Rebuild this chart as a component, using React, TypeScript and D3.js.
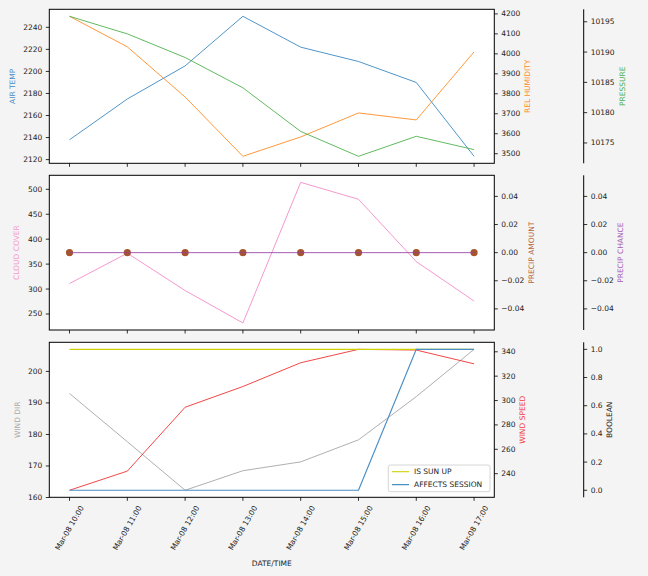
import React from 'react';
import * as d3 from 'd3';

// ---- data ----
const times = ['Mar-08 10:00', 'Mar-08 11:00', 'Mar-08 12:00', 'Mar-08 13:00', 'Mar-08 14:00', 'Mar-08 15:00', 'Mar-08 16:00', 'Mar-08 17:00'];

const airTemp = [2138, 2175, 2205, 2250, 2222, 2209, 2190, 2123];
const relHumidity = [4188, 4035, 3784, 3487, 3584, 3704, 3669, 4010];
const pressure = [10195.9, 10193.0, 10189.1, 10184.1, 10176.9, 10172.8, 10176.1, 10173.9];

const cloudCover = [311, 372, 297, 232, 514, 480, 355, 276];
const precipAmount = [0, 0, 0, 0, 0, 0, 0, 0];
const precipChance = [0, 0, 0, 0, 0, 0, 0, 0];

const windDir = [193.0, 177.7, 162.3, 168.5, 171.3, 178.3, 192.0, 207.0];
const windSpeed = [226.4, 242.1, 294.5, 311.5, 331.0, 342.0, 341.4, 330.1];
const isSunUp = [1, 1, 1, 1, 1, 1, 1, 1];
const affectsSession = [0, 0, 0, 0, 0, 0, 1, 1];

const airTempTicks = [2120, 2140, 2160, 2180, 2200, 2220, 2240];
const humidityTicks = [3500, 3600, 3700, 3800, 3900, 4000, 4100, 4200];
const pressureTicks = [10175, 10180, 10185, 10190, 10195];
const cloudTicks = [250, 300, 350, 400, 450, 500];
const precipTicks = [-0.04, -0.02, 0, 0.02, 0.04];
const windDirTicks = [160, 170, 180, 190, 200];
const windSpeedTicks = [240, 260, 280, 300, 320, 340];
const boolTicks = [0, 0.2, 0.4, 0.6, 0.8, 1.0];

// ---- layout ----
const W = 648;
const H = 576;
const left = 49.3;
const right = 494.3;
const farX = 583.7;
const TICK = 3.5;
const PAD = 3.5;
const FONT = 'DejaVu Sans, Verdana, sans-serif';
const FS = 7.5;
const LW = 0.85;

const panels = [
  { top: 9.3, bottom: 163.3 },
  { top: 175.3, bottom: 330 },
  { top: 342.3, bottom: 497.3 },
];

const x = d3.scalePoint<string>().domain(times).range([left, right]).padding(0.35);

// matplotlib-like auto limits with 5% margins
function domainOf(values: number[]): [number, number] {
  let lo = d3.min(values) as number;
  let hi = d3.max(values) as number;
  if (lo === hi) {
    lo -= 0.05;
    hi += 0.05;
  }
  const m = (hi - lo) * 0.05;
  return [lo - m, hi + m];
}

function fmtPrecip(v: number) {
  const s = Math.abs(v).toFixed(2);
  return v < 0 ? '\u2212' + s : s;
}

interface Series {
  values: number[];
  color: string;
  width?: number;
  dots?: boolean;
  noLine?: boolean;
}

interface AxisDef {
  ticks: number[];
  fmt: (v: number) => string;
  label: string;
  labelColor: string;
  labelX: number;
  domain: [number, number];
  series: Series[];
}

function lineFor(y: d3.ScaleLinear<number, number>) {
  return d3.line<number>()
    .x((_, i) => x(times[i]) as number)
    .y(d => y(d));
}

function Panel({ p, axes, legend }: { p: { top: number; bottom: number }; axes: AxisDef[]; legend?: boolean }) {
  const scales = axes.map(a => d3.scaleLinear().domain(a.domain).range([p.bottom, p.top]));
  const midY = (p.top + p.bottom) / 2;
  const axisX = [left, right, farX];
  return (
    <g>
      <rect x={left} y={p.top} width={right - left} height={p.bottom - p.top} fill="#fff" />
      {axes.map((a, ai) =>
        a.series.map((s, si) => (
          <g key={`${ai}-${si}`}>
            {!s.noLine && (
              <path d={lineFor(scales[ai])(s.values) || ''} fill="none" stroke={s.color} strokeWidth={s.width ?? LW} />
            )}
            {s.dots && s.values.map((v, i) => (
              <circle key={i} cx={x(times[i]) as number} cy={scales[ai](v)} r={3.6} fill={s.color} />
            ))}
          </g>
        ))
      )}
      {/* frame */}
      <rect x={left} y={p.top} width={right - left} height={p.bottom - p.top} fill="none" stroke="#000" strokeWidth={1} />
      {/* x ticks */}
      {times.map(t => (
        <line key={t} x1={x(t)} x2={x(t)} y1={p.bottom} y2={p.bottom + TICK} stroke="#000" strokeWidth={0.8} />
      ))}
      {/* far spine */}
      <line x1={farX} x2={farX} y1={p.top} y2={p.bottom} stroke="#000" strokeWidth={1} />
      {axes.map((a, ai) => {
        const ax = axisX[ai];
        const dir = ai === 0 ? -1 : 1;
        return (
          <g key={ai}>
            {a.ticks.map(t => {
              const yy = scales[ai](t);
              return (
                <g key={t}>
                  <line x1={ax} x2={ax + dir * TICK} y1={yy} y2={yy} stroke="#000" strokeWidth={0.8} />
                  <text x={ax + dir * (TICK + PAD)} y={yy} textAnchor={dir < 0 ? 'end' : 'start'}
                    dominantBaseline="central" fontSize={FS} fontFamily={FONT} fill="#222">{a.fmt(t)}</text>
                </g>
              );
            })}
            <text transform={`translate(${a.labelX},${midY}) rotate(-90)`} textAnchor="middle"
              dominantBaseline="central" fontSize={FS} fontFamily={FONT} fill={a.labelColor}>{a.label}</text>
          </g>
        );
      })}
      {legend && (
        <g fontFamily={FONT} fontSize={FS}>
          <rect x={388.3} y={465} width={101.7} height={26.7} rx={2} fill="#fff" fillOpacity={0.8} stroke="#cccccc" strokeWidth={0.8} />
          <line x1={392} x2={409} y1={471.7} y2={471.7} stroke="#d0d000" strokeWidth={1.1} />
          <text x={414} y={471.7} dominantBaseline="central" fill="#222">IS SUN UP</text>
          <line x1={392} x2={409} y1={484.7} y2={484.7} stroke="#1f77b4" strokeWidth={1} />
          <text x={414} y={484.7} dominantBaseline="central" fill="#222">AFFECTS SESSION</text>
        </g>
      )}
    </g>
  );
}

const int = (v: number) => String(v);

export default function App() {
  const top: AxisDef[] = [
    { ticks: airTempTicks, fmt: int, label: 'AIR TEMP', labelColor: '#4a8cc8', labelX: 12.5, domain: domainOf(airTemp),
      series: [{ values: airTemp, color: '#2f82bd' }] },
    { ticks: humidityTicks, fmt: int, label: 'REL HUMIDITY', labelColor: '#ff8c26', labelX: 527.7, domain: domainOf(relHumidity),
      series: [{ values: relHumidity, color: '#ff8519' }] },
    { ticks: pressureTicks, fmt: int, label: 'PRESSURE', labelColor: '#4fb04f', labelX: 622.7, domain: domainOf(pressure),
      series: [{ values: pressure, color: '#45ad45' }] },
  ];
  const mid: AxisDef[] = [
    { ticks: cloudTicks, fmt: int, label: 'CLOUD COVER', labelColor: '#f59acf', labelX: 16.7, domain: domainOf(cloudCover),
      series: [{ values: cloudCover, color: '#f385c8' }] },
    { ticks: precipTicks, fmt: fmtPrecip, label: 'PRECIP AMOUNT', labelColor: '#b5683f', labelX: 531.7, domain: domainOf(precipAmount),
      series: [{ values: precipAmount, color: '#a5542c', dots: true, noLine: true }] },
    { ticks: precipTicks, fmt: fmtPrecip, label: 'PRECIP CHANCE', labelColor: '#a660b4', labelX: 620.3, domain: domainOf(precipChance),
      series: [{ values: precipChance, color: '#9540a3' }] },
  ];
  const bot: AxisDef[] = [
    { ticks: windDirTicks, fmt: int, label: 'WIND DIR', labelColor: '#aaaaaa', labelX: 17, domain: domainOf(windDir),
      series: [{ values: windDir, color: '#a0a0a0' }] },
    { ticks: windSpeedTicks, fmt: int, label: 'WIND SPEED', labelColor: '#f03c3c', labelX: 522.7, domain: domainOf(windSpeed),
      series: [{ values: windSpeed, color: '#f02626' }] },
    { ticks: boolTicks, fmt: v => v.toFixed(1), label: 'BOOLEAN', labelColor: '#222', labelX: 609.7, domain: domainOf([0, 1]),
      series: [{ values: isSunUp, color: '#d0d000', width: 1.1 }, { values: affectsSession, color: '#4a8fc6', width: 1.2 }] },
  ];

  return (
    <svg width={W} height={H} style={{ position: 'absolute', left: 0, top: 0, background: '#f4f4f4' }}>
      <rect x={0} y={0} width={W} height={H} fill="#f4f4f4" />
      <Panel p={panels[0]} axes={top} />
      <Panel p={panels[1]} axes={mid} />
      <Panel p={panels[2]} axes={bot} legend />
      {/* x tick labels */}
      {times.map(t => (
        <text key={t} transform={`translate(${x(t)},${528}) rotate(-60)`} textAnchor="middle" dominantBaseline="central"
          fontSize={FS} fontFamily={FONT} fill="#222">{t}</text>
      ))}
      <text x={(left + right) / 2} y={563} textAnchor="middle" dominantBaseline="central" fontSize={FS}
        fontFamily={FONT} fill="#222">DATE/TIME</text>
    </svg>
  );
}
